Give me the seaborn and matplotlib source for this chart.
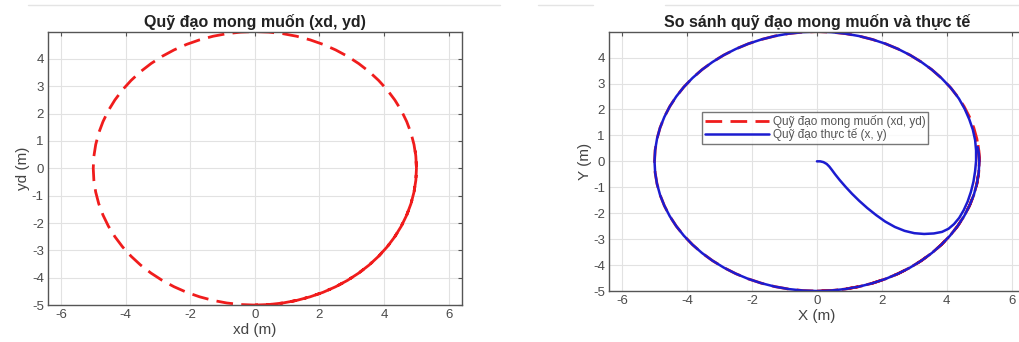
import matplotlib
matplotlib.use("Agg")
import matplotlib.pyplot as plt
from matplotlib.lines import Line2D
import seaborn as sns
import pandas as pd

# Desired trajectory (xd, yd): circle of radius 5, ~1.25 laps (counter-clockwise)
xd = [0.000, 0.436, 0.868, 1.294, 1.710, 2.113, 2.500, 2.868, 3.214, 3.536, 3.830, 4.096, 4.330, 4.532, 4.698, 4.830, 4.924, 4.981,
      5.000, 4.981, 4.924, 4.830, 4.698, 4.532, 4.330, 4.096, 3.830, 3.536, 3.214, 2.868, 2.500, 2.113, 1.710, 1.294, 0.868, 0.436,
      0.000, -0.436, -0.868, -1.294, -1.710, -2.113, -2.500, -2.868, -3.214, -3.536, -3.830, -4.096, -4.330, -4.532, -4.698, -4.830, -4.924, -4.981,
      -5.000, -4.981, -4.924, -4.830, -4.698, -4.532, -4.330, -4.096, -3.830, -3.536, -3.214, -2.868, -2.500, -2.113, -1.710, -1.294, -0.868, -0.436,
      0.000, 0.436, 0.868, 1.294, 1.710, 2.113, 2.500, 2.868, 3.214, 3.536, 3.830, 4.096, 4.330, 4.532, 4.698, 4.830, 4.924, 4.981,
      5.000, 4.981, 4.960]
yd = [-5.000, -4.981, -4.924, -4.830, -4.698, -4.532, -4.330, -4.096, -3.830, -3.536, -3.214, -2.868, -2.500, -2.113, -1.710, -1.294, -0.868, -0.436,
      0.000, 0.436, 0.868, 1.294, 1.710, 2.113, 2.500, 2.868, 3.214, 3.536, 3.830, 4.096, 4.330, 4.532, 4.698, 4.830, 4.924, 4.981,
      5.000, 4.981, 4.924, 4.830, 4.698, 4.532, 4.330, 4.096, 3.830, 3.536, 3.214, 2.868, 2.500, 2.113, 1.710, 1.294, 0.868, 0.436,
      0.000, -0.436, -0.868, -1.294, -1.710, -2.113, -2.500, -2.868, -3.214, -3.536, -3.830, -4.096, -4.330, -4.532, -4.698, -4.830, -4.924, -4.981,
      -5.000, -4.981, -4.924, -4.830, -4.698, -4.532, -4.330, -4.096, -3.830, -3.536, -3.214, -2.868, -2.500, -2.113, -1.710, -1.294, -0.868, -0.436,
      0.000, 0.436, 0.650]

# Actual trajectory (x, y): starts at the origin, converges onto the circle
xa = [0.00, 0.10, 0.20, 0.30, 0.38, 0.46, 0.56, 0.70, 0.88, 1.08, 1.30, 1.55, 1.82, 2.10, 2.40, 2.70, 3.00, 3.30, 3.60, 3.85,
      4.05, 4.22, 4.38, 4.52, 4.64, 4.74, 4.82, 4.87, 4.90, 4.90, 4.87, 4.80, 4.69, 4.55, 4.37, 4.13,
      3.830, 3.536, 3.214, 2.868, 2.500, 2.113, 1.710, 1.294, 0.868, 0.436,
      0.000, -0.436, -0.868, -1.294, -1.710, -2.113, -2.500, -2.868, -3.214, -3.536, -3.830, -4.096, -4.330, -4.532, -4.698, -4.830, -4.924, -4.981,
      -5.000, -4.981, -4.924, -4.830, -4.698, -4.532, -4.330, -4.096, -3.830, -3.536, -3.214, -2.868, -2.500, -2.113, -1.710, -1.294, -0.868, -0.436,
      0.000, 0.436, 0.868, 1.294, 1.710, 2.113, 2.500, 2.868, 3.214, 3.536, 3.830, 4.096, 4.330, 4.532, 4.698, 4.830, 4.924, 4.981,
      5.000, 4.985, 4.950]
ya = [0.00, 0.00, -0.03, -0.10, -0.20, -0.33, -0.50, -0.72, -0.98, -1.25, -1.52, -1.80, -2.07, -2.32, -2.53, -2.68, -2.77, -2.80, -2.78, -2.72,
      -2.60, -2.42, -2.18, -1.88, -1.55, -1.18, -0.78, -0.38, 0.02, 0.42, 0.82, 1.22, 1.62, 2.02, 2.42, 2.82,
      3.214, 3.536, 3.830, 4.096, 4.330, 4.532, 4.698, 4.830, 4.924, 4.981,
      5.000, 4.981, 4.924, 4.830, 4.698, 4.532, 4.330, 4.096, 3.830, 3.536, 3.214, 2.868, 2.500, 2.113, 1.710, 1.294, 0.868, 0.436,
      0.000, -0.436, -0.868, -1.294, -1.710, -2.113, -2.500, -2.868, -3.214, -3.536, -3.830, -4.096, -4.330, -4.532, -4.698, -4.830, -4.924, -4.981,
      -5.000, -4.981, -4.924, -4.830, -4.698, -4.532, -4.330, -4.096, -3.830, -3.536, -3.214, -2.868, -2.500, -2.113, -1.710, -1.294, -0.868, -0.436,
      0.000, 0.300, 0.550]

xticks = [-6, -4, -2, 0, 2, 4, 6]
yticks = [-5, -4, -3, -2, -1, 0, 1, 2, 3, 4]

title_left = "Quỹ đạo mong muốn (xd, yd)"
title_right = "So sánh quỹ đạo mong muốn và thực tế"
label_des = "Quỹ đạo mong muốn (xd, yd)"
label_act = "Quỹ đạo thực tế (x, y)"

sns.set_theme(style="whitegrid")
plt.rcParams['font.family'] = ['Liberation Sans', 'DejaVu Sans']
plt.rcParams['axes.unicode_minus'] = False

df_d = pd.DataFrame({"x": xd, "y": yd})
df_a = pd.DataFrame({"x": xa, "y": ya})

fig = plt.figure(figsize=(10.19, 3.42), dpi=100)
ax1 = fig.add_axes([0.0471, 0.108, 0.406, 0.798])
ax2 = fig.add_axes([0.5977, 0.149, 0.408, 0.757])

red = "#f01c1c"
blue = "#1c1cd0"
dash = (0, (6, 3))

sns.lineplot(data=df_d, x="x", y="y", ax=ax1, sort=False, estimator=None,
             color=red, linewidth=2.0, linestyle=dash)
sns.lineplot(data=df_d, x="x", y="y", ax=ax2, sort=False, estimator=None,
             color=red, linewidth=2.0, linestyle=dash, label=label_des)
sns.lineplot(data=df_a, x="x", y="y", ax=ax2, sort=False, estimator=None,
             color=blue, linewidth=1.8, label=label_act)

for ax, title, xl, yl in [(ax1, title_left, "xd (m)", "yd (m)"),
                          (ax2, title_right, "X (m)", "Y (m)")]:
    ax.set_xlim(-6.4, 6.4)
    ax.set_ylim(-5, 4.98)
    ax.set_xticks(xticks)
    ax.set_yticks(yticks)
    ax.grid(True, color="#e2e2e2", linewidth=0.8)
    ax.tick_params(direction="in", top=True, right=True, length=3, width=0.8,
                   labelsize=9.5, labelcolor="#4a4a4a", color="#555555", pad=3)
    for s in ax.spines.values():
        s.set_color("#555555")
        s.set_linewidth(1.0)
    ax.set_title(title, fontsize=11.5, fontweight="bold", color="#222222", pad=4)
    ax.set_xlabel(xl, fontsize=11, color="#444444", labelpad=1)
    ax.set_ylabel(yl, fontsize=11, color="#444444", labelpad=1)

leg = ax2.legend(loc="upper left", bbox_to_anchor=(0.224, 0.69), fontsize=8.5,
                 frameon=True, fancybox=False, handlelength=5.5, handletextpad=0.3,
                 borderpad=0.2, labelspacing=0.05, borderaxespad=0)
leg.get_frame().set_edgecolor("#555555")
leg.get_frame().set_linewidth(1.0)
for t in leg.get_texts():
    t.set_color("#555555")

# faint screenshot border lines at top
for x0, x1 in [(28, 500), (538, 593), (665, 1019)]:
    fig.add_artist(Line2D([x0 / 1019, x1 / 1019], [1 - 5 / 342, 1 - 5 / 342],
                          color="#e4e4e4", linewidth=1.0))

fig.savefig("out.png", dpi=100)
